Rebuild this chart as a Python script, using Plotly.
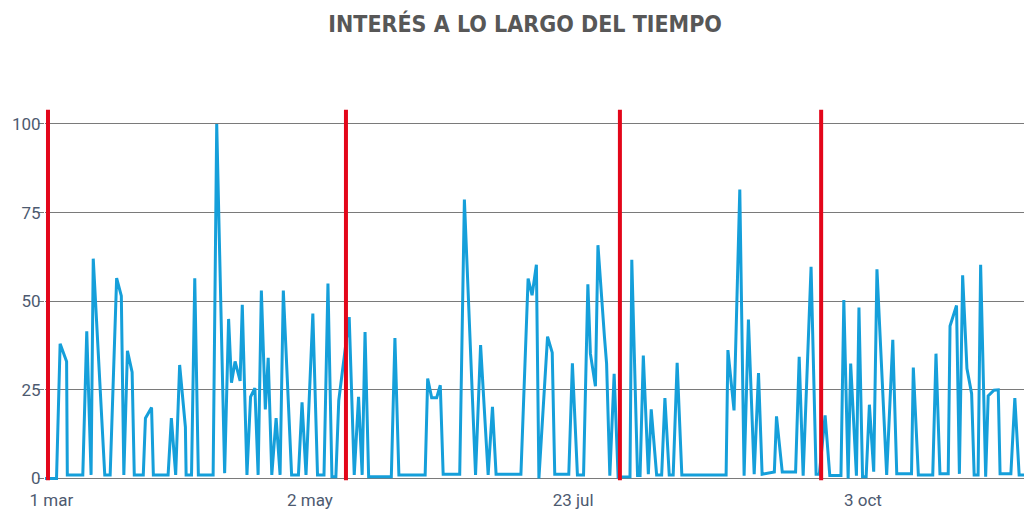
import plotly.graph_objects as go

# Days since the start of the series and interest values
days = [0, 3.2, 4.2, 6.0, 6.2, 10.5, 11.6, 12.8, 13.4, 16.6, 18.1, 19.9, 21.2, 21.9, 22.9, 24.2, 24.8,
        27.3, 27.9, 29.6, 30.1, 34.2, 35.1, 36.3, 37.4, 39.0, 39.2, 40.7, 41.6, 42.6, 46.7, 47.7, 49.9,
        51.0, 51.8, 52.8, 54.2, 54.8, 56.1, 57.1, 58.3, 59.2, 60.1, 61.2, 62.0, 63.0, 64.2, 65.3, 66.2,
        68.5, 70.4, 71.4, 72.5, 74.4, 75.7, 77.5, 78.6, 79.7, 80.8, 81.6, 84.5, 85.9, 87.1, 88.1, 88.9,
        89.9, 96.2, 97.2, 98.3, 105.6, 106.3, 107.4, 108.8, 109.8, 110.6, 115.2, 116.5, 119.6, 121.0,
        123.1, 124.3, 125.3, 132.2, 134.2, 135.3, 136.5, 137.2, 139.6, 140.9, 141.6, 145.5, 146.5, 147.9,
        149.6, 150.8, 151.5, 152.9, 153.6, 155.4, 156.0, 156.9, 158.1, 159.2, 162.5, 163.0, 164.6, 165.3,
        166.2, 167.6, 168.4, 169.9, 171.3, 172.2, 173.4, 174.5, 175.6, 176.9, 189.2, 189.7, 191.4, 193.0,
        194.2, 195.4, 197.0, 198.2, 199.2, 202.6, 203.2, 204.8, 208.5, 209.5, 210.6, 212.8, 214.2, 215.1,
        216.7, 218.0, 221.1, 221.9, 223.1, 223.8, 225.4, 226.1, 227.1, 228.1, 229.0, 230.2, 231.1, 233.8,
        235.5, 236.6, 240.7, 241.2, 242.6, 246.6, 247.5, 248.6, 250.9, 251.4, 253.2, 254.0, 254.9, 256.1,
        257.4, 258.1, 259.2, 259.9, 261.3, 262.0, 263.6, 264.8, 265.3, 268.3, 269.4, 270.6, 272.4]

interest = [0, 0, 38, 33, 1, 1, 41.5, 1, 62, 1, 1, 56.5, 51.5, 1, 36, 30, 1,
            1, 17, 20, 1, 1, 17, 1, 32, 14.5, 1, 1, 56.5, 1, 1, 100, 1.5,
            45, 27, 33, 27.5, 49, 1, 23, 25.5, 1, 53, 19.5, 34, 1, 17, 1, 53,
            1, 1, 21.5, 1, 46.5, 1, 1, 55, 0.5, 0.5, 22, 45.5, 1, 23, 1, 41.3,
            0.5, 0.5, 39.6, 1, 1, 28.2, 22.8, 22.8, 26.3, 1.2, 1.2, 78.7, 1, 37.6,
            1, 20.2, 1.2, 1.2, 56.4, 51.7, 60.3, 0, 40, 35.5, 1.2, 1.2, 32.5, 1,
            1, 54.8, 35.2, 26, 65.8, 40, 32.4, 0.8, 29.5, 0.4, 0.5, 61.7, 0.8, 0.8,
            34.7, 1.2, 19.5, 1, 1, 22.7, 1, 1, 32.6, 1, 1, 36.2, 19.2, 81.5,
            0.8, 44.8, 1.2, 29.7, 1.2, 1.8, 17.5, 1.8, 1.8, 34.3, 0.8, 59.7, 1.2, 1.2,
            17.8, 0.8, 0.8, 50.3, 0, 32.4, 0.8, 48.2, 0.5, 0.5, 20.8, 1.9, 59, 1,
            39.1, 1.3, 1.3, 31.3, 1, 1, 35.2, 1.3, 1.3, 43, 48.8, 1.3, 57.3, 31,
            23.9, 1, 1, 60.3, 0.5, 23.3, 24.9, 25, 1.3, 1.3, 22.7, 1, 1]

tick_days = [1.75, 73.6, 146.7, 227.2]
tick_labels = ["1 mar", "2 may", "23 jul", "3 oct"]

marker_days = [0.83, 83.6, 159.7, 215.6]   # red vertical markers

y_ticks = [0, 25, 50, 75, 100]

fig = go.Figure()
fig.add_trace(go.Scatter(
    x=days, y=interest, mode="lines",
    line=dict(color="#159fda", width=3),
    hoverinfo="x+y", showlegend=False,
))

for d in marker_days:
    fig.add_shape(type="line", xref="x", yref="y", x0=d, x1=d, y0=-0.5, y1=104,
                  line=dict(color="#e3061a", width=4), layer="above")

tick_font = dict(family="Roboto, Arial, sans-serif", size=17, color="#4d5a70")

fig.update_layout(
    width=1024, height=505,
    margin=dict(l=37, r=0, t=100, b=31),
    paper_bgcolor="white", plot_bgcolor="white",
    title=dict(
        text="<b>INTERÉS A LO LARGO DEL TIEMPO</b>",
        x=0.505, xanchor="center", y=0.968, yanchor="middle",
        font=dict(family="Liberation Sans Narrow, DejaVu Sans Condensed, Roboto, sans-serif",
                  size=23, color="#575757"),
    ),
    xaxis=dict(
        range=[0, 274.17], showgrid=False, zeroline=False, showline=False,
        tickmode="array", tickvals=tick_days, ticktext=tick_labels,
        tickfont=tick_font, ticks="", ticklabelstandoff=6,
    ),
    yaxis=dict(
        range=[-1, 104.5], showgrid=True, gridcolor="#7a7a7a", gridwidth=1,
        zeroline=False, showline=False,
        tickmode="array", tickvals=y_ticks, ticktext=[str(v) for v in y_ticks],
        tickfont=tick_font, ticks="outside", ticklen=6, tickcolor="#7a7a7a",
        ticklabelstandoff=-6,
    ),
)

fig.write_html("out.html")
